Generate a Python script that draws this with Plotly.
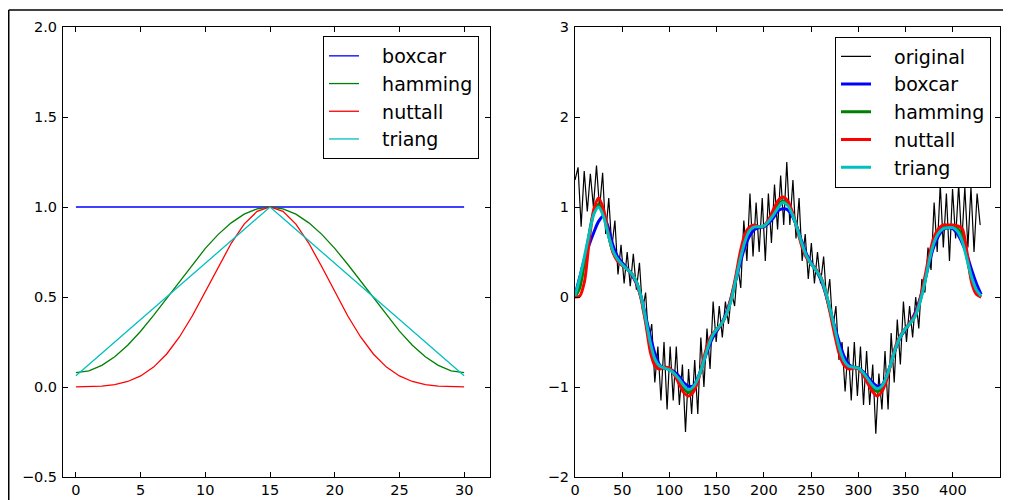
import numpy as np
import plotly.graph_objects as go
from plotly.subplots import make_subplots

# ---------------- Left panel: window shapes (31 samples) ----------------
win_n = list(range(31))
boxcar_w = [1.0] * 31
hamming_w = [0.08, 0.090, 0.120, 0.168, 0.232, 0.31, 0.398, 0.492, 0.588, 0.682,
             0.77, 0.848, 0.912, 0.960, 0.990, 1.0, 0.990, 0.960, 0.912, 0.848,
             0.77, 0.682, 0.588, 0.492, 0.398, 0.31, 0.232, 0.168, 0.120, 0.090, 0.08]
nuttall_w = [0.0004, 0.0013, 0.0048, 0.0133, 0.0306, 0.0613, 0.1105, 0.1821, 0.2778, 0.3956,
             0.5292, 0.6680, 0.7983, 0.9052, 0.9755, 1.0, 0.9755, 0.9052, 0.7983, 0.6680,
             0.5292, 0.3956, 0.2778, 0.1821, 0.1105, 0.0613, 0.0306, 0.0133, 0.0048, 0.0013, 0.0004]
triang_w = [0.0625, 0.125, 0.1875, 0.25, 0.3125, 0.375, 0.4375, 0.5, 0.5625, 0.625,
            0.6875, 0.75, 0.8125, 0.875, 0.9375, 1.0, 0.9375, 0.875, 0.8125, 0.75,
            0.6875, 0.625, 0.5625, 0.5, 0.4375, 0.375, 0.3125, 0.25, 0.1875, 0.125, 0.0625]

# ---------------- Right panel: noisy original and smoothed signals ----------------
orig_y = [1.30, 1.44, 0.78, 1.40, 0.95, 1.37, 1.00, 1.46, 0.98, 1.38,
          0.70, 1.10, 0.55, 0.85, 0.25, 0.58, 0.15, 0.50, 0.12, 0.48,
          0.08, 0.38, -0.15, 0.05, -0.50, -0.30, -0.95, -0.55, -1.15, -0.50,
          -1.25, -0.55, -1.15, -0.55, -1.20, -0.75, -1.50, -0.80, -1.30, -0.70,
          -1.30, -0.45, -1.00, -0.35, -0.80, -0.05, -0.50, -0.10, -0.45, -0.05,
          -0.30, 0.05, -0.10, 0.35, 0.10, 0.85, 0.40, 1.15, 0.45, 1.05,
          0.50, 1.10, 0.40, 1.15, 0.60, 1.25, 0.75, 1.35, 0.80, 1.50,
          0.80, 1.30, 0.65, 1.10, 0.40, 0.70, 0.20, 0.60, 0.15, 0.50,
          0.15, 0.45, -0.05, 0.20, -0.35, -0.10, -0.70, -0.50, -1.05, -0.55,
          -1.15, -0.50, -1.10, -0.55, -1.20, -0.60, -1.20, -0.75, -1.52, -0.85,
          -1.25, -0.60, -1.25, -0.40, -0.95, -0.25, -0.75, -0.05, -0.50, -0.10,
          -0.45, 0.00, -0.35, 0.20, 0.05, 0.55, 0.30, 1.05, 0.50, 1.25,
          0.55, 1.15, 0.40, 1.20, 0.65, 1.25, 0.60, 1.22, 0.55, 1.22,
          0.50, 1.15, 0.80]
orig_x = np.linspace(0, 429, len(orig_y))

smooth_x = list(range(0, 431, 5))
boxcar_s = [0.02, 0.22, 0.42, 0.58, 0.72, 0.84, 0.90, 0.78, 0.58, 0.45,
            0.38, 0.32, 0.25, 0.15, 0.00, -0.22, -0.45, -0.64, -0.76, -0.79,
            -0.80, -0.83, -0.88, -0.95, -0.99, -0.99, -0.90, -0.76, -0.60, -0.47,
            -0.38, -0.30, -0.18, -0.02, 0.18, 0.38, 0.56, 0.68, 0.75, 0.77,
            0.78, 0.82, 0.88, 0.96, 0.98, 0.97, 0.90, 0.78, 0.62, 0.48,
            0.38, 0.30, 0.20, 0.05, -0.14, -0.33, -0.51, -0.66, -0.75, -0.78,
            -0.79, -0.83, -0.89, -0.95, -0.99, -0.98, -0.88, -0.72, -0.56, -0.44,
            -0.36, -0.28, -0.18, -0.03, 0.16, 0.38, 0.56, 0.68, 0.75, 0.77,
            0.76, 0.70, 0.60, 0.47, 0.30, 0.15, 0.03]
hamming_s = [0.00, 0.10, 0.38, 0.70, 0.95, 1.03, 0.93, 0.71, 0.51, 0.41,
             0.36, 0.31, 0.26, 0.17, -0.01, -0.27, -0.55, -0.72, -0.78, -0.79,
             -0.80, -0.85, -0.93, -1.01, -1.06, -1.03, -0.92, -0.75, -0.57, -0.43,
             -0.36, -0.30, -0.20, -0.04, 0.19, 0.45, 0.65, 0.75, 0.79, 0.78,
             0.79, 0.85, 0.93, 1.02, 1.07, 1.04, 0.93, 0.77, 0.59, 0.45,
             0.37, 0.30, 0.22, 0.07, -0.15, -0.38, -0.60, -0.73, -0.78, -0.78,
             -0.79, -0.85, -0.93, -1.01, -1.05, -1.01, -0.89, -0.72, -0.55, -0.43,
             -0.35, -0.29, -0.21, -0.06, 0.16, 0.42, 0.62, 0.73, 0.77, 0.78,
             0.78, 0.76, 0.67, 0.44, 0.19, 0.05, 0.00]
nuttall_s = [0.00, 0.01, 0.17, 0.62, 0.98, 1.10, 0.98, 0.72, 0.50, 0.40,
             0.35, 0.31, 0.26, 0.16, -0.02, -0.30, -0.62, -0.77, -0.80, -0.78,
             -0.79, -0.86, -0.96, -1.06, -1.10, -1.06, -0.94, -0.74, -0.54, -0.42,
             -0.36, -0.30, -0.20, -0.02, 0.22, 0.50, 0.70, 0.78, 0.80, 0.78,
             0.79, 0.86, 0.97, 1.07, 1.11, 1.07, 0.95, 0.76, 0.57, 0.44,
             0.37, 0.31, 0.23, 0.06, -0.17, -0.42, -0.64, -0.76, -0.80, -0.79,
             -0.80, -0.86, -0.96, -1.05, -1.10, -1.05, -0.92, -0.72, -0.53, -0.42,
             -0.35, -0.28, -0.20, -0.04, 0.20, 0.46, 0.66, 0.76, 0.80, 0.80,
             0.80, 0.79, 0.76, 0.50, 0.16, 0.03, 0.00]
triang_s = [0.01, 0.21, 0.45, 0.70, 0.92, 1.00, 0.90, 0.70, 0.52, 0.42,
            0.36, 0.31, 0.26, 0.17, 0.00, -0.25, -0.52, -0.70, -0.77, -0.79,
            -0.81, -0.85, -0.91, -0.98, -1.03, -1.00, -0.91, -0.76, -0.58, -0.44,
            -0.36, -0.30, -0.20, -0.05, 0.18, 0.42, 0.62, 0.74, 0.78, 0.78,
            0.79, 0.84, 0.91, 0.99, 1.05, 1.02, 0.92, 0.77, 0.60, 0.46,
            0.37, 0.30, 0.22, 0.07, -0.13, -0.35, -0.57, -0.71, -0.77, -0.78,
            -0.79, -0.84, -0.91, -0.98, -1.02, -0.99, -0.88, -0.72, -0.55, -0.43,
            -0.35, -0.29, -0.22, -0.07, 0.14, 0.40, 0.60, 0.71, 0.76, 0.77,
            0.77, 0.73, 0.62, 0.42, 0.22, 0.08, 0.01]

# The page body has an 8px margin, so the figure sits at (8, 8) in the window.
OFF = 8
W, H = 1011 - OFF, 500 - OFF
FONT = "DejaVu Sans"
PAD = "\u00a0\u00a0\u00a0"


def fx(px):
    return (px - OFF) / W


def fy(py):
    return 1 - (py - OFF) / H


fig = make_subplots(rows=1, cols=2)

left = [("boxcar", boxcar_w, "#0000ff"), ("hamming", hamming_w, "#008000"),
        ("nuttall", nuttall_w, "#ff0000"), ("triang", triang_w, "#00bfbf")]
for name, vals, col in left:
    fig.add_trace(go.Scatter(x=win_n, y=vals, mode="lines", name=PAD + name,
                             line=dict(color=col, width=1.3), legend="legend"),
                  row=1, col=1)

fig.add_trace(go.Scatter(x=orig_x, y=orig_y, mode="lines", name=PAD + "original",
                         line=dict(color="#000000", width=1.2), legend="legend2"),
              row=1, col=2)
right = [("boxcar", boxcar_s, "#0000ff"), ("hamming", hamming_s, "#008000"),
         ("nuttall", nuttall_s, "#ff0000"), ("triang", triang_s, "#00bfbf")]
for name, vals, col in right:
    fig.add_trace(go.Scatter(x=smooth_x, y=vals, mode="lines", name=PAD + name,
                             line=dict(color=col, width=3, shape="spline", smoothing=0.8),
                             legend="legend2"),
                  row=1, col=2)

axis_common = dict(showline=True, linecolor="black", linewidth=1, mirror="ticks",
                   ticks="inside", ticklen=5, tickcolor="black", tickwidth=1,
                   showgrid=False, zeroline=False, automargin=False,
                   tickfont=dict(family=FONT, size=14.5, color="black"))

ydom = [fy(477), fy(27)]

fig.update_layout(
    width=W, height=H, autosize=False,
    margin=dict(l=0, r=0, t=0, b=0),
    paper_bgcolor="white", plot_bgcolor="white",
    font=dict(family=FONT, size=14.5, color="black"),
    xaxis=dict(domain=[fx(63), fx(490)], range=[-1, 32], dtick=5, tick0=0, **axis_common),
    yaxis=dict(domain=ydom, range=[-0.5, 2.0], dtick=0.5, tick0=0, tickformat=".1f",
               ticklabelstandoff=2, **axis_common),
    xaxis2=dict(domain=[fx(575), fx(1000)], range=[0, 450], dtick=50, tick0=0, **axis_common),
    yaxis2=dict(domain=ydom, range=[-2, 3], dtick=1, tick0=0, ticklabelstandoff=2, **axis_common),
    legend=dict(x=fx(479), y=fy(36), xanchor="right", yanchor="top",
                bgcolor="white", bordercolor="black", borderwidth=1,
                font=dict(family=FONT, size=19, color="black")),
    legend2=dict(x=fx(991), y=fy(36.5), xanchor="right", yanchor="top",
                 bgcolor="white", bordercolor="black", borderwidth=1,
                 font=dict(family=FONT, size=19, color="black")),
    shapes=[
        dict(type="line", xref="paper", yref="paper", x0=0.75 / W, x1=1.0,
             y0=fy(10), y1=fy(10), line=dict(color="black", width=1.5)),
        dict(type="line", xref="paper", yref="paper", x0=0.75 / W, x1=0.75 / W,
             y0=0, y1=fy(10), line=dict(color="black", width=1.5)),
    ],
)

fig.write_html("out.html")
